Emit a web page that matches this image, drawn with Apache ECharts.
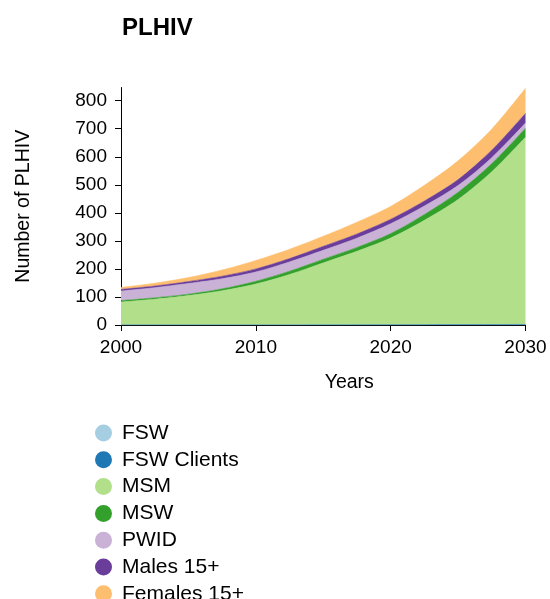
<!DOCTYPE html>
<html>
<head>
<meta charset="utf-8">
<title>PLHIV</title>
<script src="https://cdn.jsdelivr.net/npm/echarts@6/dist/echarts.min.js"></script>
<style>
    html, body { margin: 0; padding: 0; background: #fff; overflow: hidden; }
    #mainchart { width: 550px; height: 630px; }
</style>
</head>
<body>
<div id="mainchart"></div>
<script>
// 数据（读自原图，每2.5年一个点）
var years = ['2000', '2002.5', '2005', '2007.5', '2010', '2012.5', '2015', '2017.5', '2020', '2022.5', '2025', '2027.5', '2030'];
var groupNames = ['FSW', 'FSW Clients', 'MSM', 'MSW', 'PWID', 'Males 15+', 'Females 15+'];
var fsw        = [0, 0, 0, 0, 0, 0, 0, 0, 0, 0, 0, 0, 0];
var fswClients = [0, 0, 0, 0, 0, 0, 0.5, 0.7, 1, 1.2, 1.5, 1.7, 2];
var msm        = [82, 92, 105, 122, 146, 180, 221, 262, 309, 372, 446, 545, 668];
var msw        = [5, 5, 5, 7, 10, 12, 13, 14, 16, 21, 26, 29, 32];
var pwid       = [34, 36, 38, 36, 33, 33, 32, 33, 35, 30, 24, 21, 18];
var males      = [6, 6, 7, 9, 11, 12, 14, 15, 16, 18, 21, 27, 35];
var females    = [7, 10, 14, 22, 30, 33, 36, 42, 46, 56, 67, 75, 89];
var yMax = 847;

var colors = ['#a6cee3', '#1f78b4', '#b2df8a', '#33a02c', '#cab2d6', '#6a3d9a', '#fdbf6f'];
var font = '"Liberation Sans", Arial, Helvetica, sans-serif';

var allValues = [fsw, fswClients, msm, msw, pwid, males, females];
var series = [];
for (var i = 0; i < groupNames.length; i++) {
    series.push({
        name: groupNames[i],
        type: 'line',
        stack: 'total',
        smooth: 0.3,
        symbol: 'none',
        lineStyle: { width: 0.6, color: colors[i] },
        areaStyle: { opacity: 1, color: colors[i] },
        emphasis: { disabled: true },
        data: allValues[i]
    });
}

var myChart = echarts.init(document.getElementById('mainchart'));
var option = {
    animation: false,
    color: colors,
    textStyle: { fontFamily: font },
    title: {
        text: 'PLHIV',
        left: 117,
        top: 11,
        textStyle: { fontSize: 24, fontWeight: 'bold', color: '#000', fontFamily: font }
    },
    legend: {
        orient: 'vertical',
        left: 95,
        top: 422.5,
        padding: 0,
        icon: 'circle',
        itemWidth: 17,
        itemHeight: 17,
        itemGap: 5.8,
        selectedMode: false,
        textStyle: { fontSize: 21, color: '#000', lineHeight: 20, padding: [0, 0, 0, 5], fontFamily: font },
        data: groupNames
    },
    grid: { left: 121, width: 404.5, top: 87.5, height: 237.5 },
    xAxis: {
        type: 'category',
        data: years,
        boundaryGap: false,
        name: 'Years',
        nameLocation: 'middle',
        nameGap: 48,
        nameTextStyle: { fontSize: 19.5, color: '#000', padding: [0, 0, 0, 52], fontFamily: font },
        axisLine: { lineStyle: { color: '#000', width: 1 } },
        axisTick: { length: 6, interval: 3, lineStyle: { color: '#000' } },
        axisLabel: { fontSize: 19, color: '#000', margin: 13, interval: 3, fontFamily: font },
        splitLine: { show: false }
    },
    yAxis: {
        type: 'value',
        min: 0,
        max: yMax,
        interval: 100,
        name: 'Number of PLHIV',
        nameLocation: 'middle',
        nameGap: 87,
        nameTextStyle: { fontSize: 19.5, color: '#000', fontFamily: font },
        axisLine: { show: true, lineStyle: { color: '#000', width: 1 } },
        axisTick: { show: true, length: 6, lineStyle: { color: '#000' } },
        axisLabel: { fontSize: 19, color: '#000', margin: 14, showMaxLabel: false, fontFamily: font },
        splitLine: { show: false }
    },
    series: series
};
myChart.setOption(option);
</script>
</body>
</html>
